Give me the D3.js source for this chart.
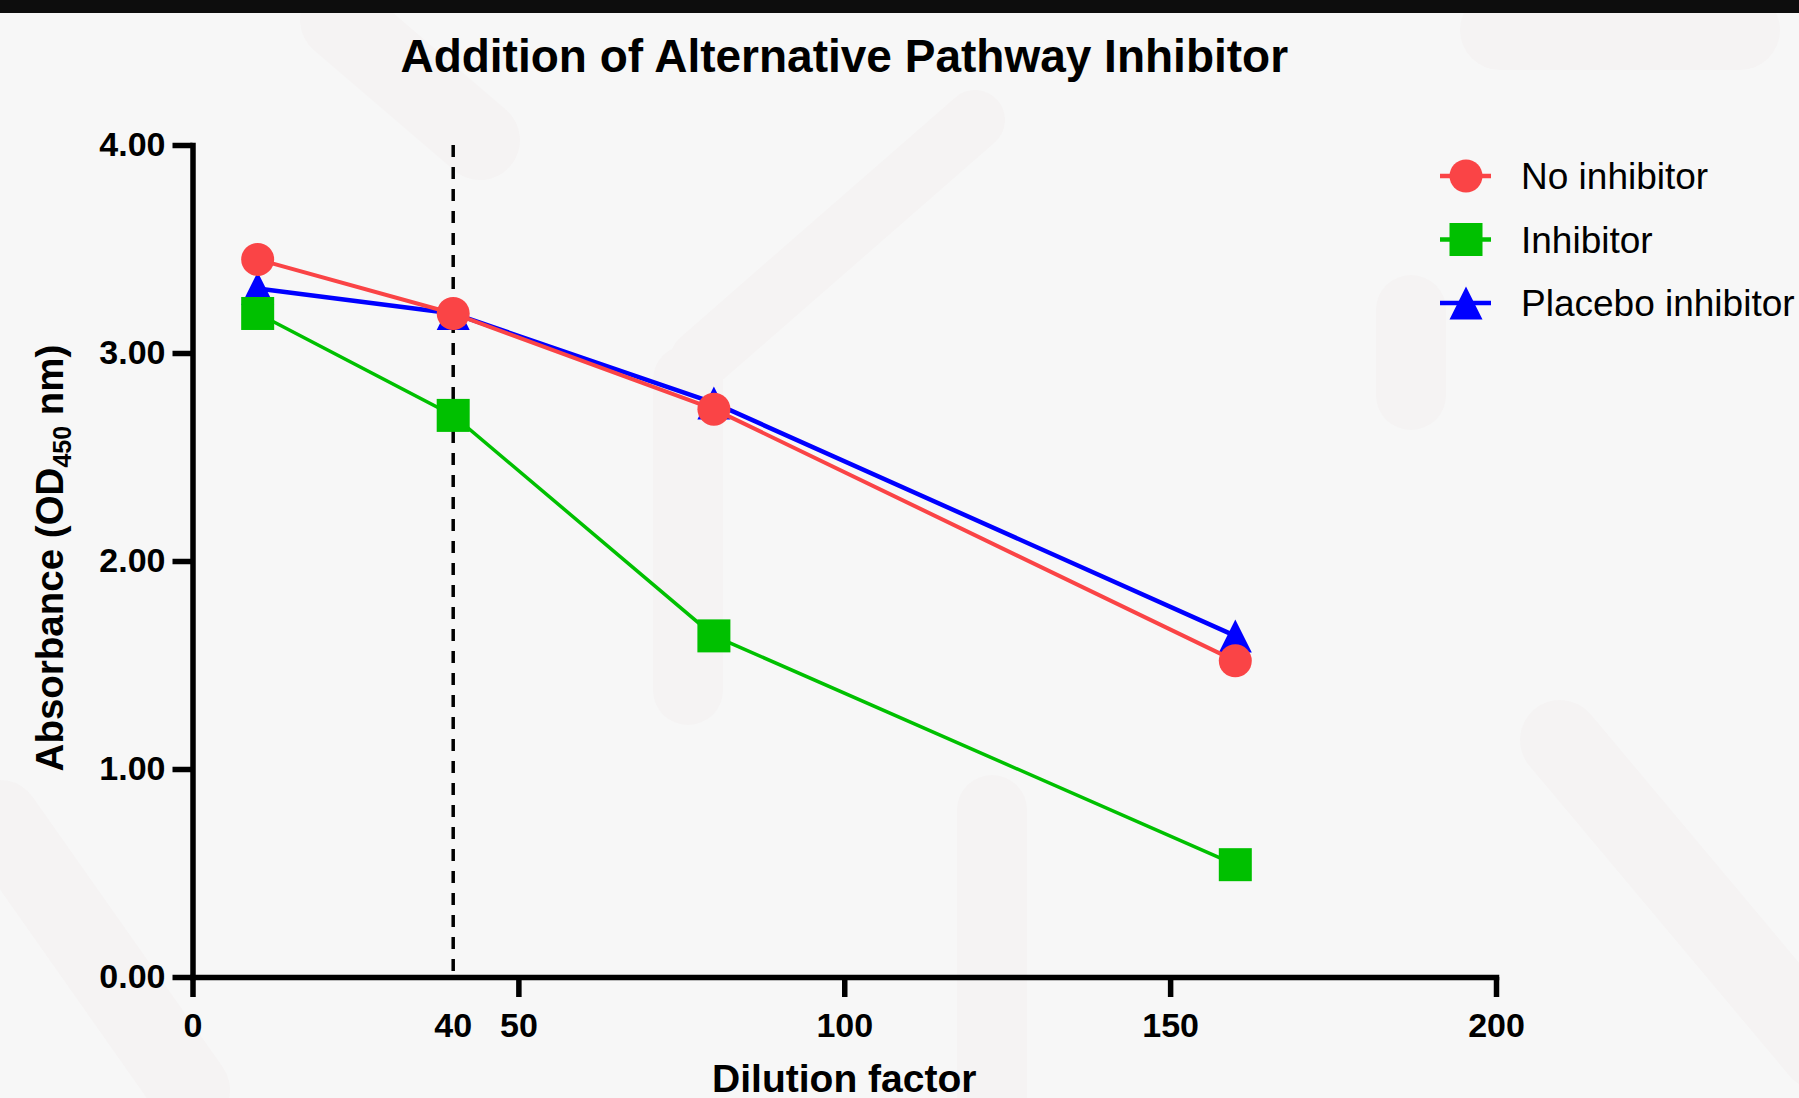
<!DOCTYPE html>
<html>
<head>
<meta charset="utf-8">
<script src="https://cdn.jsdelivr.net/npm/d3@7"></script>
<style>
  html, body { margin: 0; padding: 0; background: #f7f7f7; }
  svg { display: block; }
  text { font-family: "Liberation Sans", Arial, Helvetica, sans-serif; fill: #000; }
</style>
</head>
<body>
<svg id="chart"></svg>
<script>
"use strict";

// ── Data ──────────────────────────────────────────────────────────────────────
const dilutions   = [10, 40, 80, 160];
const noInhibitor = [3.45, 3.19, 2.73, 1.52];
const inhibitor   = [3.19, 2.70, 1.64, 0.54];
const placebo     = [3.31, 3.19, 2.76, 1.64];

const xTicks      = [0, 50, 100, 150, 200];
const xMarkLabel  = 40;               // labelled position of the dashed line
const yTicks      = [0, 1, 2, 3, 4];

const seriesNames = ["No inhibitor", "Inhibitor", "Placebo inhibitor"];

// ── Layout ────────────────────────────────────────────────────────────────────
const W = 1799, H = 1098;
const svg = d3.select("#chart").attr("width", W).attr("height", H);

svg.append("rect").attr("width", W).attr("height", H).attr("fill", "#f7f7f7");

// faint watermark strokes in the background
const wm = svg.append("g")
  .attr("fill", "none")
  .attr("stroke", "#f5f3f3")
  .attr("stroke-linecap", "round");
[
  [[688, 380], [688, 690], 70],
  [[992, 810], [992, 1120], 70],
  [[1411, 310], [1411, 395], 70],
  [[1560, 740], [1820, 1050], 80],
  [[340, 20], [480, 140], 80],
  [[975, 120], [700, 360], 60],
  [[0, 820], [190, 1090], 80],
  [[1500, 30], [1740, 30], 80],
].forEach(([a, b, w]) => {
  wm.append("line")
    .attr("x1", a[0]).attr("y1", a[1]).attr("x2", b[0]).attr("y2", b[1])
    .attr("stroke-width", w);
});

svg.append("rect").attr("width", W).attr("height", 13).attr("fill", "#0d0d0d");

const x = d3.scaleLinear().domain([0, 200]).range([192.5, 1496]);
const y = d3.scaleLinear().domain([0, 4]).range([977, 145]);

// ── Title ─────────────────────────────────────────────────────────────────────
svg.append("text")
  .attr("x", (x(0) + x(200)) / 2)
  .attr("y", 72)
  .attr("text-anchor", "middle")
  .attr("font-size", 46)
  .attr("font-weight", "bold")
  .text("Addition of Alternative Pathway Inhibitor");

// ── Axes ──────────────────────────────────────────────────────────────────────
const AXW = 5.5;

const yAxis = svg.append("g")
  .attr("transform", `translate(${x(0)},0)`)
  .call(d3.axisLeft(y).tickValues(yTicks).tickSize(20).tickSizeOuter(0)
    .tickPadding(7).tickFormat(d3.format(".2f")));

const xAxis = svg.append("g")
  .attr("transform", `translate(0,${y(0)})`)
  .call(d3.axisBottom(x).tickValues(xTicks).tickSize(20).tickSizeOuter(0)
    .tickPadding(16).tickFormat(d3.format("d")));

[yAxis, xAxis].forEach((ax) => {
  ax.select(".domain").attr("stroke", "#000").attr("stroke-width", AXW)
    .attr("stroke-linecap", "square");
  ax.selectAll(".tick line").attr("stroke", "#000").attr("stroke-width", AXW);
  ax.selectAll(".tick text")
    .attr("font-family", "'Liberation Sans', Arial, sans-serif")
    .attr("font-size", 34)
    .attr("font-weight", "bold")
    .attr("fill", "#000");
});

// "40" label under the dashed line (no tick mark)
xAxis.append("text")
  .attr("x", x(xMarkLabel))
  .attr("y", 36)
  .attr("dy", "0.71em")
  .attr("text-anchor", "middle")
  .attr("font-family", "'Liberation Sans', Arial, sans-serif")
  .attr("font-size", 34)
  .attr("font-weight", "bold")
  .attr("fill", "#000")
  .text(xMarkLabel);

// Axis titles
svg.append("text")
  .attr("x", (x(0) + x(200)) / 2)
  .attr("y", 1092)
  .attr("text-anchor", "middle")
  .attr("font-size", 39)
  .attr("font-weight", "bold")
  .text("Dilution factor");

const yTitle = svg.append("text")
  .attr("transform", `translate(63,558) rotate(-90)`)
  .attr("text-anchor", "middle")
  .attr("font-size", 38.5)
  .attr("font-weight", "bold");
yTitle.append("tspan").text("Absorbance (OD");
yTitle.append("tspan").attr("font-size", 25).attr("dy", 8).text("450");
yTitle.append("tspan").attr("dy", -8).text(" nm)");

// ── Dashed reference line ─────────────────────────────────────────────────────
svg.append("line")
  .attr("x1", x(xMarkLabel)).attr("x2", x(xMarkLabel))
  .attr("y1", y(4)).attr("y2", y(0))
  .attr("stroke", "#000")
  .attr("stroke-width", 3.5)
  .attr("stroke-dasharray", "12,10");

// ── Series ────────────────────────────────────────────────────────────────────
const MS = 33; // marker size (px)

function drawMarker(g, shape, color) {
  if (shape === "circle") {
    g.append("circle").attr("r", MS / 2).attr("fill", color);
  } else if (shape === "square") {
    g.append("rect").attr("x", -MS / 2).attr("y", -MS / 2)
      .attr("width", MS).attr("height", MS).attr("fill", color);
  } else {
    g.append("path")
      .attr("d", `M0,${-MS / 2}L${MS / 2},${MS / 2}L${-MS / 2},${MS / 2}Z`)
      .attr("fill", color);
  }
}

const series = [
  { name: seriesNames[2], values: placebo,     color: "#0000ff", shape: "triangle", width: 4.5 },
  { name: seriesNames[1], values: inhibitor,   color: "#00c000", shape: "square",   width: 3.5 },
  { name: seriesNames[0], values: noInhibitor, color: "#fa4446", shape: "circle",   width: 4 },
];

const line = d3.line().x((d) => x(d[0])).y((d) => y(d[1]));

series.forEach((s) => {
  const pts = dilutions.map((d, i) => [d, s.values[i]]);
  svg.append("path")
    .datum(pts)
    .attr("d", line)
    .attr("fill", "none")
    .attr("stroke", s.color)
    .attr("stroke-width", s.width);

  svg.append("g").selectAll("g")
    .data(pts)
    .join("g")
    .attr("transform", (d) => `translate(${x(d[0])},${y(d[1])})`)
    .each(function () { drawMarker(d3.select(this), s.shape, s.color); });
});

// ── Legend ────────────────────────────────────────────────────────────────────
const legendOrder = [series[2], series[1], series[0]];
const legend = svg.append("g").attr("transform", "translate(1466,176)");

legendOrder.forEach((s, i) => {
  const row = legend.append("g").attr("transform", `translate(0,${i * 63.5})`);
  row.append("line")
    .attr("x1", -26).attr("x2", 25)
    .attr("stroke", s.color).attr("stroke-width", 4.5);
  drawMarker(row, s.shape, s.color);
  row.append("text")
    .attr("x", 55)
    .attr("dy", "0.36em")
    .attr("font-size", 37)
    .text(s.name);
});
</script>
</body>
</html>
